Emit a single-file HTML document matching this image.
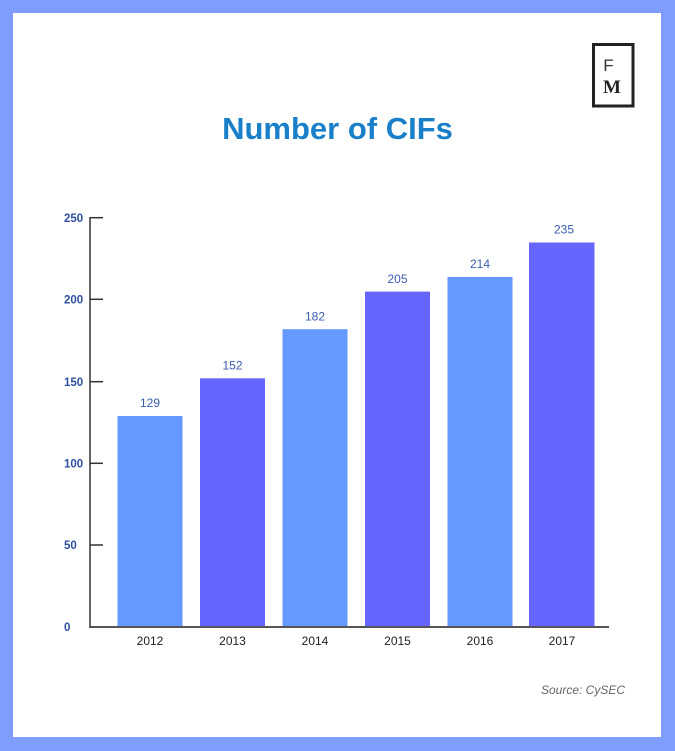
<!DOCTYPE html>
<html>
<head>
<meta charset="utf-8">
<style>
html,body{margin:0;padding:0;}
body{width:675px;height:751px;background:#7f9cff;position:relative;overflow:hidden;}
.card{position:absolute;left:13px;top:13px;width:648px;height:724px;background:#fff;}
svg{position:absolute;left:0;top:0;}
</style>
</head>
<body>
<div class="card"></div>
<svg width="675" height="751" viewBox="0 0 675 751" xmlns="http://www.w3.org/2000/svg">
  <!-- logo -->
  <rect x="593.5" y="44.5" width="39.5" height="61.5" fill="#fff" stroke="#222" stroke-width="3"/>
  <text x="608.5" y="71" font-family="Liberation Sans, sans-serif" font-size="17" fill="#333" text-anchor="middle" font-weight="normal">F</text>
  <text x="612" y="93" font-family="Liberation Serif, serif" font-size="19" fill="#222" text-anchor="middle" font-weight="bold">M</text>

  <!-- title -->
  <text x="337.5" y="139" font-family="Liberation Sans, sans-serif" font-size="31" font-weight="bold" fill="#1a7fc9" text-anchor="middle">Number of CIFs</text>

  <!-- bars -->
  <rect x="117.5" y="416" width="65" height="211" fill="#6699ff"/>
  <rect x="200" y="378.3" width="65" height="248.7" fill="#6666ff"/>
  <rect x="282.5" y="329.2" width="65" height="297.8" fill="#6699ff"/>
  <rect x="365" y="291.6" width="65" height="335.4" fill="#6666ff"/>
  <rect x="447.5" y="276.9" width="65" height="350.1" fill="#6699ff"/>
  <rect x="529" y="242.5" width="65.5" height="384.5" fill="#6666ff"/>

  <!-- value labels -->
  <g font-family="Liberation Sans, sans-serif" font-size="12" fill="#3a5cae" text-anchor="middle">
    <text x="150" y="407">129</text>
    <text x="232.5" y="369.5">152</text>
    <text x="315" y="320.5">182</text>
    <text x="397.5" y="283">205</text>
    <text x="480" y="268">214</text>
    <text x="564" y="233.5">235</text>
  </g>

  <!-- axes -->
  <line x1="90" y1="217" x2="90" y2="627" stroke="#333" stroke-width="1.5"/>
  <line x1="89" y1="627" x2="609" y2="627" stroke="#555" stroke-width="2"/>
  <g stroke="#333" stroke-width="1.5">
    <line x1="90" y1="217.7" x2="103" y2="217.7"/>
    <line x1="90" y1="299.3" x2="103" y2="299.3"/>
    <line x1="90" y1="381.7" x2="103" y2="381.7"/>
    <line x1="90" y1="463.3" x2="103" y2="463.3"/>
    <line x1="90" y1="545" x2="103" y2="545"/>
  </g>

  <!-- y labels -->
  <g font-family="Liberation Sans, sans-serif" font-size="11.5" font-weight="bold" fill="#2e4fa0">
    <text x="64" y="222">250</text>
    <text x="64" y="303.5">200</text>
    <text x="64" y="386">150</text>
    <text x="64" y="467.5">100</text>
    <text x="64" y="549">50</text>
    <text x="64" y="631">0</text>
  </g>

  <!-- x labels -->
  <g font-family="Liberation Sans, sans-serif" font-size="12" fill="#222" text-anchor="middle">
    <text x="150" y="645">2012</text>
    <text x="232.5" y="645">2013</text>
    <text x="315" y="645">2014</text>
    <text x="397.5" y="645">2015</text>
    <text x="480" y="645">2016</text>
    <text x="562" y="645">2017</text>
  </g>

  <!-- source -->
  <text x="625" y="694" font-family="Liberation Sans, sans-serif" font-size="12" font-style="italic" fill="#666" text-anchor="end">Source: CySEC</text>
</svg>
</body>
</html>
